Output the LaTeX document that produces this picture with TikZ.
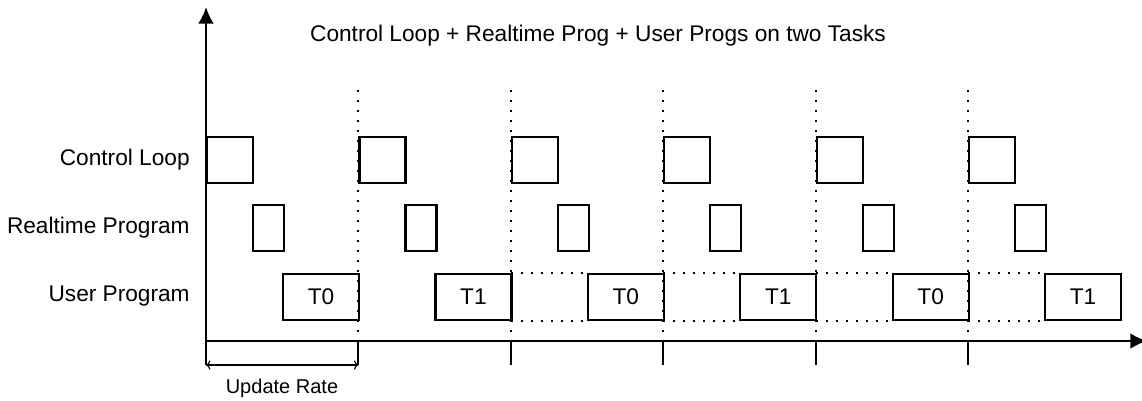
\documentclass[tikz,border=0pt]{standalone}
\usepackage{fontspec}
\setmainfont{Liberation Sans}
\usetikzlibrary{arrows.meta}

\tikzset{
  box/.style={draw, line width=1.2pt, inner sep=0pt, anchor=north west},
  clbox/.style={box, minimum width=0.92cm, minimum height=0.92cm},
  rtbox/.style={box, minimum width=0.62cm, minimum height=0.92cm},
  upbox/.style={box, minimum width=1.52cm, minimum height=0.92cm},
  dots/.style={line width=1.2pt, dash pattern=on 1.2pt off 4.5pt},
  axis/.style={line width=1.2pt},
  lbl/.style={anchor=east, inner sep=0pt}
}

\begin{document}
\begin{tikzpicture}[x=0.02cm, y=-0.02cm, >=Latex,
    font=\fontsize{12.9}{15}\selectfont]
  \useasboundingbox (0,0) rectangle (1142,400);
  % axes
  \coordinate (o) at (206,341);
  \coordinate (ytop) at (206,7);
  \coordinate (xend) at (1147,341);
  \coordinate (ybot) at (206,365);
  \draw[axis, -{Latex[length=9.5pt,width=9pt]}] (ybot) -- (ytop);
  \draw[axis, -{Latex[length=9.5pt,width=9pt]}] (o) -- (xend);
  \node at (598,36) (title) {Control Loop + Realtime Prog + User Progs on two Tasks};
  \node[lbl] at (190,160) (lcl) {Control Loop};
  \node[lbl] at (190,228) (lrt) {Realtime Program};
  \node[lbl] at (190,296) (lup) {User Program};
  \foreach \i/\t in {0/T0,1/T1,2/T0,3/T1,4/T0,5/T1}{
     \pgfmathsetmacro\p{206+152.4*\i}
     \node[clbox] at (\p,136) (cl\i) {};
     \node[rtbox] at (\p+46,204) (rt\i) {};
     \node[upbox] at (\p+76,273) (up\i) {\t};
  }
  \foreach \i in {1,...,5}{
     \pgfmathsetmacro\p{206+152.4*\i}
     \coordinate (d\i) at (\p,90);
     \coordinate (t\i) at (\p,341);
     \coordinate (b\i) at (\p,365);
     \draw[dots] (d\i) -- (t\i);
     \draw[axis] (t\i) -- (b\i);
  }
  \foreach \i in {2,...,5}{
     \draw[dots] (t\i |- up\i.north) -- (up\i.north west);
     \draw[dots] (t\i |- up\i.south) -- (up\i.south west);
  }
  % update rate
  \draw[line width=0.6pt, {To[length=2.5pt]}-{To[length=2.5pt]}] (ybot) -- (b1);
  \node[font=\fontsize{11.4}{13}\selectfont] at (282,388) (ur) {Update Rate};
\end{tikzpicture}
\end{document}
